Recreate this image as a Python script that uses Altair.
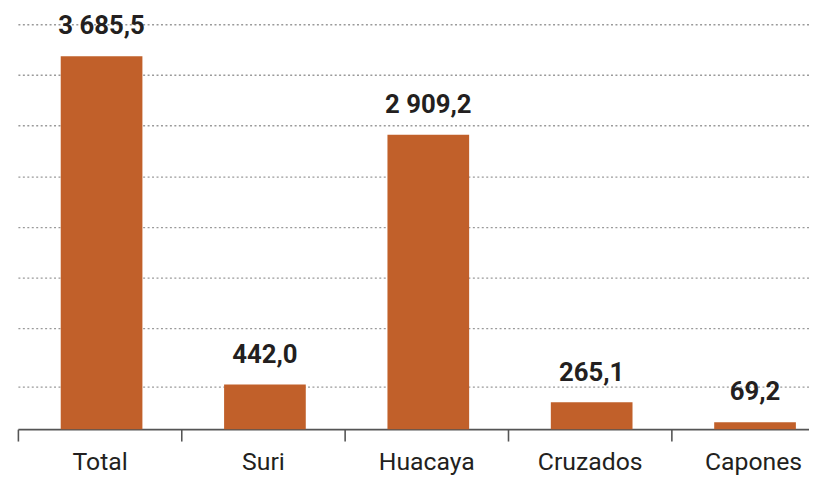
import altair as alt
import pandas as pd

categories = ["Total", "Suri", "Huacaya", "Cruzados", "Capones"]
values = [3685.5, 442.0, 2909.2, 265.1, 69.2]
grid_values = [420, 1000, 1500, 2000, 2500, 3000, 3500, 4000]


def fmt(v):
    return f"{v:,.1f}".replace(",", " ").replace(".", ",")


df = pd.DataFrame({"cat": categories, "val": values, "label": [fmt(v) for v in values]})

FONT = "Roboto"
BAR = "#C1602A"

x = alt.X(
    "cat:N",
    sort=categories,
    title=None,
    scale=alt.Scale(range=[0, 825], paddingInner=0, paddingOuter=0),
    axis=alt.Axis(
        labelAngle=0,
        labelFont=FONT,
        labelFontSize=25,
        labelColor="#231F20",
        labelPadding=9,
        domainColor="#555555",
        domainWidth=1.6,
        tickColor="#555555",
        tickWidth=1.6,
        tickSize=12,
        tickBand="extent",
        grid=False,
    ),
)
y = alt.Y(
    "val:Q",
    title=None,
    scale=alt.Scale(domain=[0, 4139], nice=False, zero=True),
    axis=alt.Axis(
        labels=False,
        ticks=False,
        domain=False,
        grid=True,
        values=grid_values,
        gridColor="#9a9a9a",
        gridDash=[2, 2.5],
        gridWidth=1.4,
    ),
)

bars = alt.Chart(df).mark_bar(
    color=BAR, width=alt.RelativeBandSize(0.5), xOffset=2
).encode(x=x, y=y)
text = alt.Chart(df).mark_text(
    font=FONT, fontSize=26, fontWeight="bold", color="#231F20",
    baseline="alphabetic", dy=-22, dx=2,
).encode(x=alt.X("cat:N", sort=categories), y="val:Q", text="label:N")

chart = (
    alt.layer(bars, text)
    .properties(
        width=799,
        height=423,
        padding={"left": 10, "top": 0, "right": 0, "bottom": 51},
        autosize=alt.AutoSizeParams(type="none"),
    )
    .configure_view(stroke=None)
)

chart.save("out.html", embed_options={"renderer": "svg", "actions": False})
